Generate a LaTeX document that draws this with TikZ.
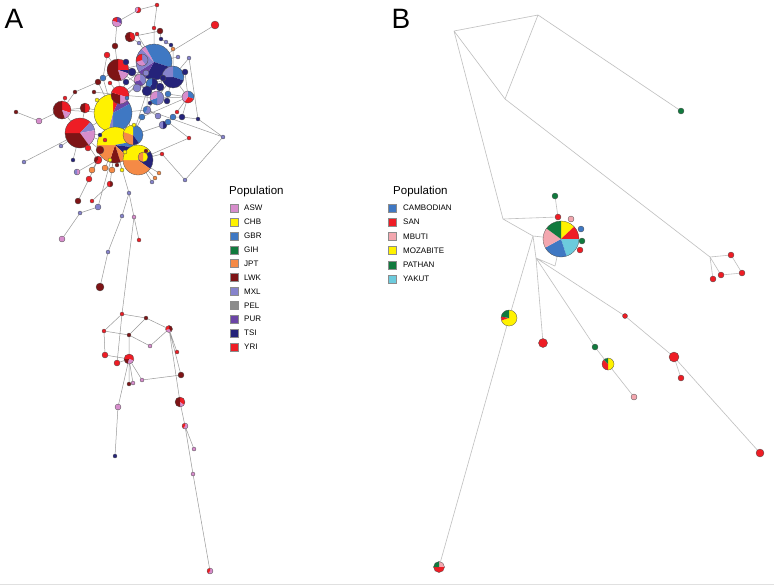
\documentclass[tikz,border=0pt]{standalone}
\usepackage{fontspec}
\setmainfont{Liberation Sans}
\definecolor{asw}{HTML}{D78DCC}
\definecolor{chb}{HTML}{FFF200}
\definecolor{gbr}{HTML}{3F78C3}
\definecolor{gih}{HTML}{117A3E}
\definecolor{jpt}{HTML}{F58A46}
\definecolor{lwk}{HTML}{7E1416}
\definecolor{mxl}{HTML}{8683CC}
\definecolor{pel}{HTML}{8C8C8C}
\definecolor{pur}{HTML}{6B45A6}
\definecolor{tsi}{HTML}{25237A}
\definecolor{yri}{HTML}{EE1D25}
\definecolor{camb}{HTML}{3F78C3}
\definecolor{san}{HTML}{EE1D25}
\definecolor{mbuti}{HTML}{F3A7AF}
\definecolor{moz}{HTML}{FFF200}
\definecolor{path}{HTML}{117A3E}
\definecolor{yak}{HTML}{6CCBDD}
\pgfdeclarelayer{bgl}
\pgfdeclarelayer{edges}
\pgfsetlayers{bgl,edges,main}
\tikzset{
  nd/.style={circle,draw=black!70,line width=0.3pt,inner sep=0pt,outer sep=0pt},
  ea/.style={draw=black!40,line width=0.5pt},
  eb/.style={draw=black!25,line width=0.6pt},
  sw/.style={draw=black!45,line width=0.4pt,minimum size=8pt,inner sep=0pt,outer sep=0pt},
  lab/.style={font=\fontsize{8}{9}\selectfont,anchor=west,inner sep=0pt},
  ttl/.style={font=\fontsize{11.5}{12}\selectfont,anchor=west,inner sep=0pt},
  pan/.style={font=\fontsize{28}{28}\selectfont,inner sep=0pt}
}
\newcommand\pn[4]{%
  \gdef\pacc{90}%
  \foreach \pc/\pf in {#4}{%
    \pgfmathsetmacro\pend{\pacc-360*\pf}%
    \fill[\pc] (#2) -- ++(\pacc:#3pt) arc[start angle=\pacc,end angle=\pend,radius=#3pt] -- cycle;%
    \xdef\pacc{\pend}%
  }%
  \node[nd,minimum size=#3*2pt] (#1) at (#2) {};%
}
\newcommand\dt[4]{\node[nd,fill=#4,minimum size=#3*2pt] (#1) at (#2) {};}
\begin{document}
\begin{tikzpicture}[x=1pt,y=-1pt]
\useasboundingbox (0,0) rectangle (774,587);
\begin{pgfonlayer}{bgl}
\fill[white] (0,0) rectangle (774,587);
\draw[black!12,line width=0.5pt] (0,584) -- (774,584);
\end{pgfonlayer}
\node[pan] (labA) at (14,19) {A};
\node[pan] (labB) at (401,19) {B};
% ================= PANEL A =================
\pn{bb}{154,62}{18}{gbr/0.3,tsi/0.28,pur/0.08,mxl/0.22,asw/0.04,gbr/0.08}
\pn{br}{173,77}{11}{gbr/0.3,tsi/0.45,mxl/0.25}
\pn{dr}{118,70}{11}{yri/0.25,tsi/0.05,asw/0.15,lwk/0.55}
\pn{yb}{113,113}{19}{yri/0.07,pur/0.1,gbr/0.33,mxl/0.04,chb/0.46}
\pn{rl}{80,133}{15}{yri/0.12,mxl/0.1,asw/0.18,lwk/0.35,yri/0.25}
\pn{yo}{115,145}{18}{chb/0.22,gbr/0.05,tsi/0.1,jpt/0.08,lwk/0.1,jpt/0.2,chb/0.25}
\pn{bo}{133,135}{10}{gbr/0.4,tsi/0.1,jpt/0.3,chb/0.2}
\pn{yo2}{138,160}{15}{chb/0.15,tsi/0.2,jpt/0.4,chb/0.25}
\pn{rd}{120,95}{9}{yri/0.3,asw/0.2,lwk/0.3,yri/0.2}
\pn{lp}{62,110}{9}{yri/0.3,asw/0.15,lwk/0.55}
\pn{p157}{157,98}{7}{mxl/0.5,gbr/0.2,asw/0.3}
\pn{p188}{188,97}{6}{gbr/0.3,yri/0.3,asw/0.4}
\pn{p142}{142,60}{6}{mxl/0.4,asw/0.3,yri/0.3}
\pn{p117}{117,22}{5}{pur/0.3,asw/0.5,yri/0.2}
\pn{p130}{130,37}{5}{yri/0.4,lwk/0.6}
\pn{p140}{140,80}{6}{mxl/0.4,pur/0.3,asw/0.3}
\pn{p152}{152,84}{6}{tsi/0.6,gbr/0.4}
\pn{p85}{85,108}{5}{yri/0.5,lwk/0.5}
\pn{p100}{98,160}{4}{yri/0.6,lwk/0.4}
\pn{p163}{163,125}{4}{tsi/0.5,mxl/0.5}
\pn{p147}{147,110}{4}{mxl/0.6,gbr/0.4}
\pn{p138}{138,10}{3}{yri/0.6,asw/0.4}
\pn{p110}{110,184}{3}{lwk/0.5,yri/0.5}
\pn{p77}{77,172}{3}{asw/0.5,mxl/0.5}
\pn{p144}{143,157}{5}{chb/0.5,jpt/0.5}
\dt{d1}{157,5}{2}{yri}
\dt{d2}{154,28}{2}{yri}
\dt{d3}{160,31}{3}{lwk}
\dt{d4}{215,25}{4}{yri}
\dt{d5}{137,34}{2}{yri}
\dt{d6}{139,43}{2}{mxl}
\dt{d7}{115,46}{3}{lwk}
\dt{d8}{107,55}{3}{yri}
\dt{d9}{161,39}{2}{tsi}
\dt{d10}{166,42}{2}{mxl}
\dt{d11}{171,45}{2}{tsi}
\dt{d12}{173,49}{2}{jpt}
\dt{d13}{178,57}{2}{mxl}
\dt{d14}{189,58}{2}{mxl}
\dt{d15}{132,72}{4}{tsi}
\dt{d16}{160,87}{4}{tsi}
\dt{d17}{137,88}{4}{mxl}
\dt{d18}{147,91}{5}{tsi}
\dt{d19}{163,78}{3}{tsi}
\dt{d20}{185,72}{3}{tsi}
\dt{d21}{103,78}{3}{gbr}
\dt{d22}{98,82}{3}{lwk}
\dt{d23}{75,92}{2}{lwk}
\dt{d24}{65,98}{2}{yri}
\dt{d25}{110,83}{2}{yri}
\dt{d26}{16,112}{2}{lwk}
\dt{d27}{39,121}{3}{asw}
\dt{d28}{168,122}{3}{gbr}
\dt{d29}{173,117}{3}{gbr}
\dt{d30}{182,117}{3}{tsi}
\dt{d31}{177,112}{2}{yri}
\dt{d32}{167,101}{3}{tsi}
\dt{d33}{168,94}{3}{gbr}
\dt{d34}{142,117}{3}{gbr}
\dt{d35}{146,151}{2}{lwk}
\dt{d36}{162,154}{2}{yri}
\dt{d37}{159,173}{2}{jpt}
\dt{d38}{152,182}{2}{mxl}
\dt{d39}{155,178}{2}{jpt}
\dt{d40}{189,138}{2}{yri}
\dt{d41}{198,119}{2}{tsi}
\dt{d42}{223,137}{2}{mxl}
\dt{d43}{185,180}{2}{mxl}
\dt{d44}{73,160}{2}{tsi}
\dt{d45}{61,146}{2}{mxl}
\dt{d46}{24,162}{2}{mxl}
\dt{d47}{105,168}{3}{jpt}
\dt{d48}{112,170}{3}{jpt}
\dt{d49}{117,165}{2}{lwk}
\dt{d50}{122,170}{2}{chb}
\dt{d51}{89,179}{3}{yri}
\dt{d52}{78,201}{3}{lwk}
\dt{d53}{92,201}{2}{yri}
\dt{d54}{98,207}{3}{mxl}
\dt{d55}{80,213}{2}{mxl}
\dt{d56}{62,239}{3}{asw}
\dt{d57}{139,240}{2}{yri}
\dt{d58}{122,216}{2}{mxl}
\dt{d59}{134,217}{2}{asw}
\dt{d60}{129,193}{2}{mxl}
\dt{d61}{100,287}{4}{lwk}
\dt{d62}{108,252}{2}{mxl}
\dt{e1}{97,100}{2}{chb}
\dt{e2}{127,98}{2}{gbr}
\dt{e3}{100,135}{2}{tsi}
\dt{e4}{105,140}{2}{yri}
\dt{e5}{100,150}{4}{lwk}
\dt{e6}{88,148}{3}{yri}
\dt{e7}{125,152}{2}{chb}
\dt{e8}{110,160}{2}{chb}
\dt{e9}{134,125}{2}{chb}
\dt{e10}{94,92}{2}{lwk}
\dt{e11}{150,103}{2}{tsi}
\dt{e12}{126,62}{3}{tsi}
\dt{e13}{146,73}{3}{mxl}
\dt{e14}{158,116}{3}{mxl}
\dt{e15}{92,170}{3}{jpt}
\dt{e16}{126,82}{3}{tsi}
% bottom cluster
\dt{b1}{122,314}{2}{yri}
\dt{b2}{146,318}{2}{lwk}
\pn{b3}{169,329}{3.5}{lwk/0.4,asw/0.3,yri/0.3}
\dt{b4}{104,331}{2}{yri}
\dt{b5}{129,335}{2}{lwk}
\dt{b6}{150,346}{2}{asw}
\dt{b7}{105,355}{3}{yri}
\dt{b8}{117,363}{3}{yri}
\pn{b9}{129,359}{5}{yri/0.3,asw/0.25,lwk/0.2,yri/0.25}
\dt{b10}{177,352}{2}{yri}
\dt{b11}{129,384}{2}{lwk}
\dt{b12}{133,383}{2}{asw}
\dt{b13}{142,380}{2}{asw}
\dt{b14}{181,375}{3}{lwk}
\pn{b15}{180,402}{5}{yri/0.35,asw/0.15,lwk/0.5}
\dt{b16}{118,407}{3}{asw}
\pn{b17}{185,426}{3}{asw/0.6,yri/0.4}
\dt{b18}{194,449}{2}{asw}
\dt{b19}{193,474}{2}{asw}
\dt{b20}{115,456}{2}{tsi}
\pn{b21}{210,571}{3}{asw/0.6,yri/0.4}
\begin{pgfonlayer}{edges}
\draw[ea] (d1)--(d2) (d2)--(bb) (d4)--(bb) (p138)--(p117) (p138)--(d1) (p117)--(d7) (d7)--(dr)
 (p130)--(d5) (d5)--(bb) (p130)--(d3) (d3)--(d9) (d9)--(d10) (d10)--(d11) (d11)--(d12) (d12)--(br)
 (d13)--(bb) (d14)--(br) (d8)--(dr) (d8)--(d21) (dr)--(rd) (dr)--(bb) (dr)--(d15) (d15)--(p140)
 (p140)--(bb) (p140)--(p152) (p152)--(br) (p152)--(d16) (d16)--(d19) (d19)--(br) (d20)--(br)
 (d17)--(rd) (d18)--(p152) (d18)--(p147) (rd)--(yb) (d21)--(yb) (d22)--(yb) (d22)--(d23) (d23)--(lp)
 (d24)--(lp) (d25)--(rd) (d26)--(d27) (d27)--(lp) (lp)--(p85) (p85)--(yb) (lp)--(rl) (rl)--(yb)
 (rl)--(yo) (yb)--(yo) (yb)--(bo) (bo)--(yo) (yo)--(yo2) (bo)--(yo2) (bo)--(p163) (p163)--(d28)
 (d28)--(d29) (d29)--(d30) (d30)--(p188) (d31)--(p188) (p188)--(br) (p157)--(p188) (p157)--(p147)
 (p147)--(yb) (p157)--(d32) (d32)--(d33) (d33)--(br) (d34)--(p147) (d34)--(bo) (d35)--(yo2)
 (d36)--(yo2) (d37)--(yo2) (d38)--(yo2) (d39)--(yo2) (d40)--(yo2) (d40)--(d28) (d41)--(d30)
 (d41)--(d42) (p147)--(d42) (d42)--(d43) (d43)--(d36) (d44)--(rl) (d45)--(rl) (d46)--(rl)
 (p100)--(yo) (p100)--(rl) (p77)--(p100) (d47)--(yo) (d48)--(yo) (d49)--(yo) (d50)--(yo)
 (d51)--(p100) (d52)--(d51) (d53)--(p110) (p110)--(yo) (d54)--(yo) (d55)--(d54) (d56)--(d55)
 (d60)--(yo) (d58)--(d60) (d59)--(d60) (d57)--(d59) (d62)--(d58) (d61)--(d62) (p142)--(bb)
 (e1)--(yb) (e2)--(rd) (e3)--(rl) (e5)--(rl) (e6)--(rl) (e7)--(yo2) (e8)--(yo) (e9)--(bo)
 (e10)--(rd) (e11)--(p157) (e12)--(dr) (e13)--(bb) (e14)--(p147) (e15)--(p100) (e16)--(rd)
 (d6)--(bb) (d6)--(p130) (bb)--(yb) (br)--(p157) (d18)--(bo) (p140)--(rd) (e13)--(d15)
 (d21)--(dr) (lp)--(yb) (rd)--(bo) (p85)--(rl) (e16)--(bb) (d17)--(p152) (d33)--(p188)
 (p188)--(d34) (br)--(p147) (d20)--(p188) (d14)--(d41) (rd)--(p157) (dr)--(p157)
 (d59)--(b1) (b1)--(b8)
 (b1)--(b2) (b1)--(b4) (b2)--(b5) (b2)--(b3) (b4)--(b5) (b4)--(b7) (b7)--(b9) (b5)--(b6)
 (b6)--(b3) (b5)--(b9) (b9)--(b11) (b9)--(b12) (b9)--(b13) (b13)--(b14) (b9)--(b16)
 (b16)--(b20) (b3)--(b10) (b3)--(b14) (b3)--(b15) (b15)--(b17) (b17)--(b18) (b17)--(b19)
 (b19)--(b21) (b8)--(b9);
\end{pgfonlayer}
% legend A
\node[ttl] (popA) at (229,192) {Population};
\foreach \lname/\lcol [count=\k from 0] in {ASW/asw,CHB/chb,GBR/gbr,GIH/gih,JPT/jpt,LWK/lwk,MXL/mxl,PEL/pel,PUR/pur,TSI/tsi,YRI/yri}{
  \node[sw,fill=\lcol] (swA\k) at (234,{208+13.9*\k}) {};
  \node[lab] (ltA\k) at (244,{208+13.9*\k}) {\lname};
}
% ================= PANEL B =================
\coordinate (P1) at (454,31);
\coordinate (P2) at (538,15);
\coordinate (P3) at (505,99);
\coordinate (J1) at (503,219);
\coordinate (J2) at (533,236);
\coordinate (J3) at (536,258);
\coordinate (JP) at (555,266);
\coordinate (R) at (710,257);
\pn{qbp}{561,239}{18}{moz/0.13,san/0.12,yak/0.2,camb/0.22,mbuti/0.18,path/0.15}
\dt{qg1}{681,111}{3}{path}
\dt{qr1}{558,217}{3}{san}
\dt{qg2}{555,196}{3}{path}
\dt{qpk}{571,219}{3}{mbuti}
\dt{qbl}{581,229}{3}{camb}
\dt{qg3}{582,241}{3}{path}
\dt{qr2}{580,250}{3}{san}
\pn{qyp}{509,318}{8}{moz/0.7,san/0.08,path/0.22}
\dt{qrr1}{543,343}{4.5}{san}
\dt{qg4}{595,347}{3}{path}
\pn{qyp2}{608,364}{6}{moz/0.5,san/0.38,path/0.12}
\dt{qpk2}{634,397}{3}{mbuti}
\dt{qrs1}{625,316}{2.5}{san}
\dt{qrr2}{674,357}{5}{san}
\dt{qrs2}{681,378}{3}{san}
\dt{qrr3}{760,453}{4}{san}
\pn{qbot}{439,567}{5.5}{mbuti/0.25,san/0.5,path/0.25}
\dt{qc1}{731,255}{3}{san}
\dt{qc2}{742,273}{3}{san}
\dt{qc3}{721,275}{3}{san}
\dt{qc4}{713,279}{3}{san}
\begin{pgfonlayer}{edges}
\draw[eb] (P1)--(P2) (P1)--(P3) (P2)--(P3) (P2)--(qg1) (P1)--(J1) (P3)--(R)
 (J1)--(qr1) (qr1)--(qg2) (J1)--(J2) (J2)--(qbp) (J2)--(J3) (J3)--(JP) (JP)--(qbp)
 (J2)--(qyp) (qyp)--(qbot) (J3)--(qrr1) (J3)--(qg4) (qg4)--(qyp2) (qyp2)--(qpk2)
 (J3)--(qrs1) (qrs1)--(qrr2) (qrr2)--(qrr3) (qrr2)--(qrs2)
 (R)--(qc1) (qc1)--(qc2) (qc2)--(qc3) (qc3)--(R) (R)--(qc4);
\end{pgfonlayer}
% legend B
\node[ttl] (popB) at (393,192) {Population};
\foreach \lname/\lcol [count=\k from 0] in {CAMBODIAN/camb,SAN/san,MBUTI/mbuti,MOZABITE/moz,PATHAN/path,YAKUT/yak}{
  \node[sw,fill=\lcol] (swB\k) at (392,{208+14.2*\k}) {};
  \node[lab] (ltB\k) at (403,{208+14.2*\k}) {\lname};
}
\end{tikzpicture}
\end{document}
